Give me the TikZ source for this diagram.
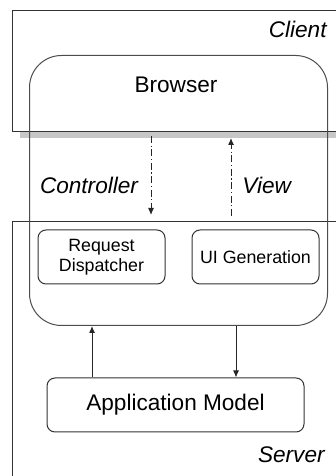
\documentclass[tikz,border=0pt]{standalone}
\usepackage{fontspec}
\setmainfont{Liberation Sans}
\usetikzlibrary{arrows.meta,positioning,shadows}
\tikzset{%
	zone/.style     = {draw=black!80, line width=0.5pt, rectangle, inner sep=0pt, anchor=north west}, % Client / Server
	frame/.style    = {draw=black!70, line width=0.5pt, rectangle, rounded corners=16pt, inner sep=0pt, anchor=north west},
	module/.style   = {draw=black!80, line width=0.5pt, rectangle, rounded corners=4pt, align=center, inner sep=0pt},
	tag/.style      = {font=\fontsize{11.3}{13.5}\selectfont\itshape, inner sep=0pt}, % zone names
	call/.style     = {black!85, line width=0.5pt, -{Latex[length=3.5pt,width=3pt]}},
	flow/.style     = {call, dash pattern=on 3.5pt off 1.3pt on 0.6pt off 1.3pt},
}
\begin{document}
\begin{tikzpicture}[x=0.5pt,y=0.5pt]
	\useasboundingbox (0,0) rectangle (336,476);
	\clip (0,0) rectangle (336,476);
	% zones
	\node [zone, fill=white, minimum width=166.5pt, minimum height=60.5pt,
		drop shadow={shadow xshift=3.5pt, shadow yshift=-3.5pt, fill=black!22, opacity=1}] (client) at (12,466) {};
	\node [zone, minimum width=166.5pt, minimum height=135pt] (server) at (12,255) {};
	\node [tag, anchor=east] (clienttag) at (327,447) {Client};
	\node [tag, anchor=east] (servertag) at (325,21) {Server};
	% browser and its parts
	\node [frame, minimum width=149pt, minimum height=135pt] (browser) at (29,421) {};
	\node [font=\fontsize{11.3}{13.5}\selectfont, inner sep=0pt] (browsertxt) at (176,391) {Browser};
	\node [module, minimum width=63.5pt, minimum height=27pt,
		font=\fontsize{8.9}{10}\selectfont] (dispatch) at (101.5,219) {Request\\Dispatcher};
	\node [module, minimum width=63.5pt, minimum height=27pt,
		font=\fontsize{8.9}{10}\selectfont] (uigen) [right=13pt of dispatch] {UI Generation};
	\node [module, minimum width=128.5pt, minimum height=27pt,
		font=\fontsize{11.3}{13.5}\selectfont] (app) at (175.5,71) {Application Model};
	\node [tag] (ctltag) at (89,291) {Controller};
	\node [tag, anchor=west] (viewtag) at (242,291) {View};
	
	\coordinate (ctl) at (151,0);
	\coordinate (view) at (231,0);
	\coordinate (up) at (92,0);
	\coordinate (down) at (236,0);
	
	\draw[flow, shorten <=2pt, shorten >=3pt] (client.south -| ctl) -- (server.north -| ctl);
	\draw[flow, shorten <=2.5pt, shorten >=3pt] (server.north -| view) -- (client.south -| view);
	\draw[call] (app.north -| up) -- (browser.south -| up);
	\draw[call] (browser.south -| down) -- (app.north -| down);
\end{tikzpicture}
\end{document}
